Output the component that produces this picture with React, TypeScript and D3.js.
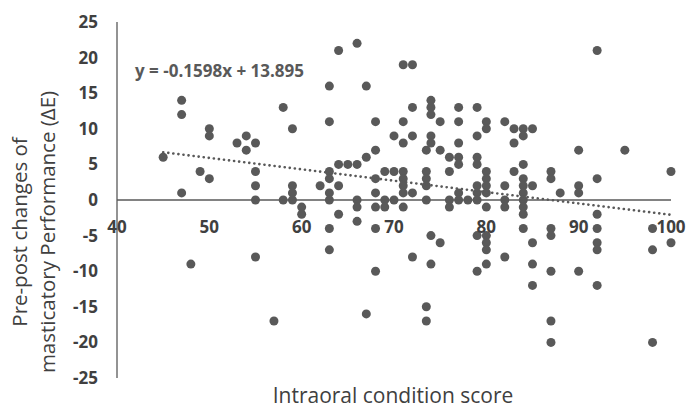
import React from "react";
import * as d3 from "d3";

// intraoral condition score (x) and pre-post change ΔE (y)
const scores = [
  45, 47, 47, 47, 48, 49, 50, 50, 50,
  53, 54, 55, 54, 55, 55, 55, 55, 57,
  58, 58, 59, 59, 59, 59, 60, 60,
  62, 63, 63, 63, 63, 63, 63, 63, 63,
  64, 64, 64, 64, 65, 66, 66, 66, 66, 66,
  67, 67, 67, 68, 68, 68, 68, 68, 68, 68,
  69, 69, 69, 70, 70, 70,
  71, 71, 71, 71, 71, 71, 71, 71,
  72, 72, 72, 72, 72,
  73.5, 73.5, 73.5, 73.5, 73.5, 73.5, 73.5,
  74, 74, 74, 74, 74, 74, 74,
  75, 75, 75,
  76, 76, 76, 76,
  77, 77, 77, 77, 77, 77, 77,
  78,
  79, 79, 79, 79, 79, 79, 79, 79, 79,
  80, 80, 80, 80, 80, 80, 80, 80, 80, 80, 80,
  82, 82, 82, 82, 82,
  83, 83, 83,
  84, 84, 84, 84, 84, 84, 84, 84, 84, 84,
  85, 85, 85, 85, 85,
  87, 87, 87, 87, 87, 87, 87,
  88, 90, 90, 90, 90,
  92, 92, 92, 92, 92, 92, 92,
  95, 98, 98, 98, 100, 100,
];
const deltas = [
  6, 14, 12, 1, -9, 4, 10, 9, 3,
  8, 9, 8, 7, 4, 2, 0, -8, -17,
  13, 0, 10, 2, 1, 0, -1, -2,
  2, 16, 11, 4, 3, 1, 0, -4, -7,
  21, 5, 2, -2, 5, 22, 5, 0, -1, -3,
  16, 6, -16, 11, 7, 3, 1, -1, -4, -10,
  4, 0, -1, 9, 4, 0,
  19, 11, 8, 4, 3, 2, 1, -1,
  19, 13, 9, 1, -8,
  7, 4, 3, 2, 0, -15, -17,
  14, 13, 12, 9, 8, -5, -9,
  11, 7, -6,
  6, 4, 0, -1,
  13, 11, 8, 6, 5, 1, 0,
  0,
  13, 9, 6, 5, 2, 1, 0, -5, -10,
  11, 10, 4, 3, 2, 1, -1, -5, -6, -7, -9,
  11, 2, 0, -1, -8,
  10, 8, 4,
  10, 9, 5, 3, 2, 1, 0, -1, -2, -4,
  10, 2, -6, -9, -12,
  4, 3, -4, -5, -10, -17, -20,
  1, 7, 2, 1, -10,
  21, 3, -2, -4, -6, -7, -12,
  7, -4, -7, -20, 4, -6,
];

const xTicks = [40, 50, 60, 70, 80, 90, 100];
const yTicks = [25, 20, 15, 10, 5, 0, -5, -10, -15, -20, -25];
const slope = -0.1598;
const intercept = 13.895;
const trendRange = [45, 100];

const W = 688;
const H = 408;
const font = "'Open Sans', sans-serif";

export default function App() {
  const x = d3.scaleLinear().domain([40, 100]).range([117, 671]);
  const y = d3.scaleLinear().domain([-25, 25]).range([378, 22]);

  const points = scores.map((s, i) => ({ s, d: deltas[i] }));

  const trend = d3
    .line<number>()
    .x((v) => x(v))
    .y((v) => y(slope * v + intercept));

  return (
    <svg
      width={W}
      height={H}
      style={{ position: "absolute", left: 0, top: 0, background: "#fff" }}
    >
      {/* points */}
      {points.map((p, i) => (
        <circle key={i} cx={x(p.s)} cy={y(p.d)} r={4.5} fill="#595959" />
      ))}

      {/* trendline */}
      <path
        d={trend(trendRange) ?? ""}
        fill="none"
        stroke="#595959"
        strokeWidth={2.6}
        strokeDasharray="0.1 5"
        strokeLinecap="round"
      />

      {/* axes */}
      <line x1={x(40)} x2={x(40)} y1={y(25)} y2={y(-25)} stroke="#595959" strokeWidth={1.3} />
      <line x1={x(40)} x2={x(100)} y1={y(0)} y2={y(0)} stroke="#595959" strokeWidth={1.3} />

      {yTicks.map((t) => (
        <text
          key={t}
          x={98}
          y={y(t) + 6}
          textAnchor="end"
          fontFamily={font}
          fontWeight="bold"
          fontSize={17}
          fill="#404040"
        >
          {t}
        </text>
      ))}
      {xTicks.map((t) => (
        <text
          key={t}
          x={x(t)}
          y={233}
          textAnchor="middle"
          fontFamily={font}
          fontWeight="bold"
          fontSize={17}
          fill="#404040"
        >
          {t}
        </text>
      ))}

      {/* equation */}
      <text x={135} y={77} fontFamily={font} fontWeight="bold" fontSize={17} fill="#595959">
        y = -0.1598x + 13.895
      </text>

      {/* axis titles */}
      <g transform="translate(0,232) rotate(-90)" fontFamily={font} fontSize={20.5} fill="#404040">
        <text x={0} y={27} textAnchor="middle">Pre-post changes of</text>
        <text x={0} y={55} textAnchor="middle">masticatory Performance (ΔE)</text>
      </g>
      <text x={393} y={403} textAnchor="middle" fontFamily={font} fontSize={21} fill="#404040">
        Intraoral condition score
      </text>
    </svg>
  );
}
